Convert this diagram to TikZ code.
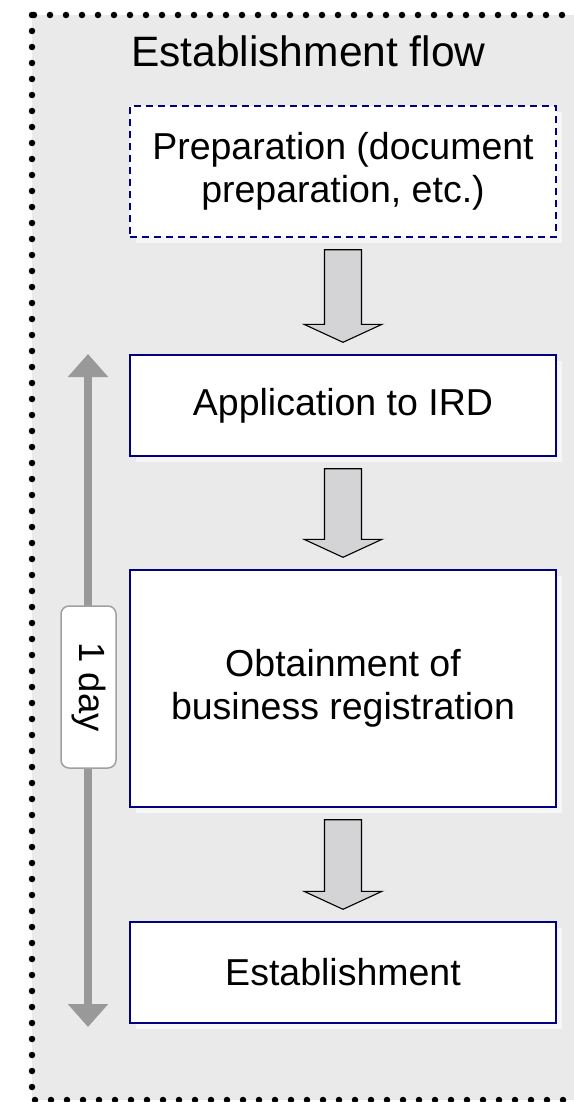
\documentclass[tikz,border=0pt]{standalone}
\usepackage{fontspec}
\setmainfont{Liberation Sans}
\usetikzlibrary{arrows.meta,calc,shadows}
\definecolor{bgray}{HTML}{EAEAEA}
\definecolor{navyb}{HTML}{000080}
\definecolor{afill}{HTML}{D4D4D6}
\definecolor{dgray}{HTML}{999999}
\definecolor{lgray}{HTML}{A0A0A0}
\definecolor{shad}{HTML}{F6F6F6}
\newcommand\blockarrow[2]{%
  \draw[barrow] let \p1=(#1.south), \p2=(#2.north) in
    (\x1-18.5pt,\y1-12pt) -- (\x1+18.5pt,\y1-12pt) -- (\x1+18.5pt,\y2+30pt)
    -- (\x1+39pt,\y2+30pt) -- (\x1,\y2+12pt) -- (\x1-39pt,\y2+30pt)
    -- (\x1-18.5pt,\y2+30pt) -- cycle;}
\begin{document}
\begin{tikzpicture}[x=1pt,y=-1pt,
  flowbox/.style={draw=navyb, line width=1.4pt, fill=white, minimum width=426pt,
    align=center, inner sep=0pt, font=\fontsize{37.5}{43}\selectfont,
    drop shadow={shadow xshift=6pt, shadow yshift=-6pt, fill=shad, opacity=1}},
  barrow/.style={draw=black, line width=1.1pt, fill=afill, line join=miter},
  frame/.style={fill=bgray, draw=black, line width=6.5pt, line cap=round,
    dash pattern=on 0pt off 16pt},
  span/.style={draw=dgray, line width=8pt,
    {Triangle[width=39pt,length=23pt]}-{Triangle[width=39pt,length=23pt]}},
  daylabel/.style={draw=lgray, line width=1.5pt, fill=white, rounded corners=8pt,
    rotate=-90, minimum width=162pt, minimum height=55pt, inner sep=0pt,
    font=\fontsize{36.5}{42}\selectfont}]
\useasboundingbox (0,0) rectangle (573,1102);
\draw[frame] (32,15) rectangle (620,1100);
\node[anchor=base west, inner sep=0pt, font=\fontsize{42.5}{48}\selectfont] (title) at (131,67) {Establishment flow};
\node[flowbox, dash pattern=on 7pt off 5pt, minimum height=131pt] (prep) at (343,171.5) {Preparation (document\\preparation, etc.)};
\node[flowbox, minimum height=101pt] (ird) at (343,405.5) {Application to IRD};
\node[flowbox, minimum height=237pt] (obt) at (343,688.5) {Obtainment of\\business registration};
\node[flowbox, minimum height=101pt] (est) at (343,972.5) {Establishment};
\blockarrow{prep}{ird}
\blockarrow{ird}{obt}
\blockarrow{obt}{est}
\coordinate (dtop) at (88,354);
\coordinate (dbot) at (88,1027);
\draw[span] (dtop) -- (dbot);
\node[daylabel] (day) at (88.5,687) {1 day};
\end{tikzpicture}
\end{document}
